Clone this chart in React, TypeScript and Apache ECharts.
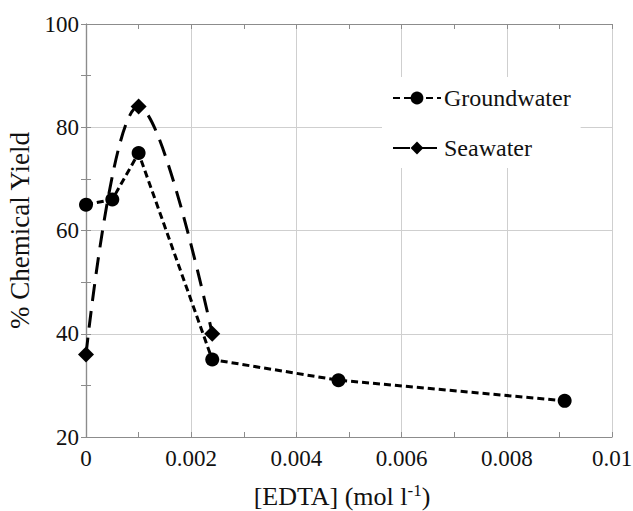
import React, { useEffect, useRef } from "react";
import * as echarts from "echarts";

const seriesNames = ["Groundwater", "Seawater"];
const groundwaterX = [0, 0.0005, 0.001, 0.0024, 0.0048, 0.0091];
const groundwaterY = [65, 66, 75, 35, 31, 27];
const seawaterX = [0, 0.001, 0.0024];
const seawaterY = [36, 84, 40];
const xTickValues = [0, 0.002, 0.004, 0.006, 0.008, 0.01];
const xTickLabels = ["0", "0.002", "0.004", "0.006", "0.008", "0.01"];
const yTickLabels = ["20", "40", "60", "80", "100"];

const FONT = "Liberation Serif";
const INK = "#111";
const FRAME = "#8c8c8c";
const GRIDC = "#cfcfcf";

function xLabel(v: number): string {
  let best = 0;
  for (let i = 0; i < xTickValues.length; i++) {
    if (Math.abs(xTickValues[i] - v) < Math.abs(xTickValues[best] - v)) best = i;
  }
  return xTickLabels[best];
}

function yLabel(v: number): string {
  const s = String(Math.round(v));
  return yTickLabels.indexOf(s) >= 0 ? s : "";
}

export default function App() {
  const ref = useRef<HTMLDivElement>(null);
  useEffect(() => {
    if (!ref.current) return;
    const chart = echarts.init(ref.current, undefined, { renderer: "svg" });
    const baseX = {
      type: "value",
      min: 0,
      max: 0.01,
      interval: 0.002,
      axisLine: { show: true, lineStyle: { color: FRAME, width: 1.2 } },
      axisTick: { show: true, inside: true, length: 5, lineStyle: { color: FRAME } },
      minorTick: { show: true, splitNumber: 2, length: 5, lineStyle: { color: FRAME } },
    };
    const baseY = {
      type: "value",
      min: 20,
      max: 100,
      interval: 20,
      axisLine: { show: true, lineStyle: { color: FRAME, width: 1.2 } },
      axisTick: { show: true, inside: true, length: 5, lineStyle: { color: FRAME } },
      minorTick: { show: true, splitNumber: 2, length: 5, lineStyle: { color: FRAME } },
    };
    chart.setOption({
      animation: false,
      backgroundColor: "#fff",
      textStyle: { fontFamily: FONT },
      grid: { left: 86, right: 21, top: 24, bottom: 74, containLabel: false, outerBoundsMode: "none" },
      legend: {
        orient: "vertical",
        left: 382,
        top: 77,
        padding: [9, 10, 8, 10],
        itemGap: 26,
        itemWidth: 48,
        itemHeight: 16,
        backgroundColor: "#fff",
        data: seriesNames,
        textStyle: { fontFamily: FONT, fontSize: 24, color: INK, padding: [0, 0, 0, -2] },
      },
      xAxis: [
        {
          ...baseX,
          position: "bottom",
          splitLine: { show: true, lineStyle: { color: GRIDC, width: 1 } },
          axisLabel: {
            show: true,
            margin: 10,
            fontFamily: FONT,
            fontSize: 23,
            color: INK,
            formatter: (v: number) => xLabel(v),
          },
          name: "[EDTA] (mol l{sup|-1})",
          nameLocation: "middle",
          nameGap: 45,
          nameTextStyle: {
            fontFamily: FONT,
            fontSize: 26,
            color: INK,
            padding: [0, 14, 0, 0],
            rich: {
              sup: { fontFamily: FONT, fontSize: 17, color: INK, verticalAlign: "top", padding: [0, 0, 12, 0] },
            },
          },
        },
        {
          ...baseX,
          position: "top",
          splitLine: { show: false },
          axisLabel: { show: false },
        },
      ],
      yAxis: [
        {
          ...baseY,
          position: "left",
          splitLine: { show: true, lineStyle: { color: GRIDC, width: 1 } },
          axisLabel: {
            show: true,
            margin: 7,
            fontFamily: FONT,
            fontSize: 23,
            color: INK,
            formatter: (v: number) => yLabel(v),
          },
          name: "% Chemical Yield",
          nameLocation: "middle",
          nameGap: 48,
          nameTextStyle: { fontFamily: FONT, fontSize: 27, color: INK },
        },
        {
          ...baseY,
          position: "right",
          splitLine: { show: false },
          axisLabel: { show: false },
        },
      ],
      series: [
        {
          name: seriesNames[0],
          type: "line",
          data: groundwaterX.map((x, i) => [x, groundwaterY[i]]),
          symbol: "circle",
          symbolSize: 14,
          itemStyle: { color: "#000" },
          lineStyle: { color: "#000", width: 3, type: [7, 4] },
          z: 3,
        },
        {
          name: seriesNames[1],
          type: "line",
          smooth: 0.4,
          data: seawaterX.map((x, i) => [x, seawaterY[i]]),
          symbol: "diamond",
          symbolSize: 16,
          itemStyle: { color: "#000" },
          lineStyle: { color: "#000", width: 3, type: [17, 10] },
          z: 2,
        },
      ],
    });
    return () => chart.dispose();
  }, []);
  return (
    <div
      ref={ref}
      style={{ position: "absolute", left: 0, top: 0, width: 633, height: 511 }}
    />
  );
}
